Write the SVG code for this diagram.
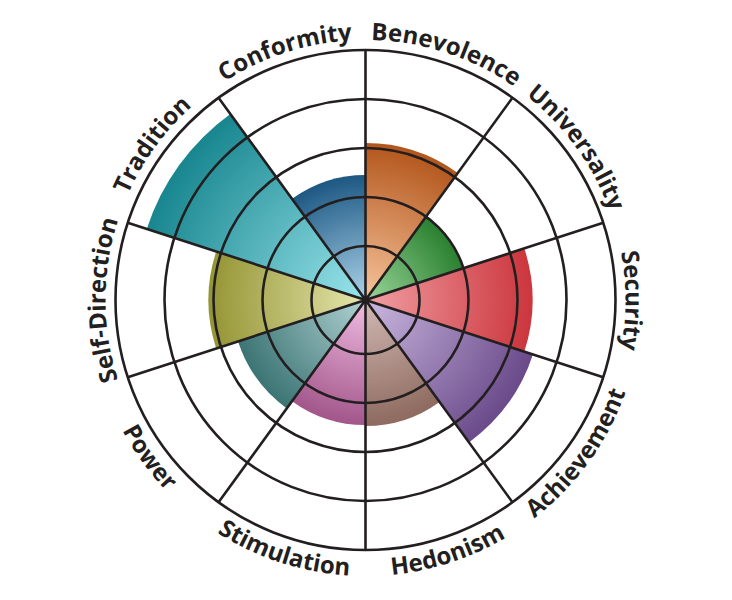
<svg xmlns="http://www.w3.org/2000/svg" xmlns:xlink="http://www.w3.org/1999/xlink" width="732" height="600" viewBox="0 0 732 600">
<style>
.grid{fill:none;stroke:#231f20;stroke-width:2.6}
.lbl{font-family:"Open Sans","Noto Sans","Liberation Sans",sans-serif;font-weight:700;font-size:24px;fill:#231f20}
</style>
<defs>
<path id="cw" d="M365.5,560 A260,260 0 1 1 365.5,40 A260,260 0 1 1 365.5,560"/>
<path id="ccw" d="M365.5,24 A276,276 0 1 0 365.5,576 A276,276 0 1 0 365.5,24"/>
<radialGradient id="gBen" gradientUnits="userSpaceOnUse" cx="365.5" cy="300" r="157"><stop offset="0" stop-color="#f7c59c"/><stop offset="1" stop-color="#b3561c"/></radialGradient>
<radialGradient id="gUni" gradientUnits="userSpaceOnUse" cx="365.5" cy="300" r="103"><stop offset="0" stop-color="#9ad69a"/><stop offset="1" stop-color="#2a8030"/></radialGradient>
<radialGradient id="gSec" gradientUnits="userSpaceOnUse" cx="365.5" cy="300" r="167"><stop offset="0" stop-color="#f0a0a4"/><stop offset="1" stop-color="#cc363d"/></radialGradient>
<radialGradient id="gAch" gradientUnits="userSpaceOnUse" cx="365.5" cy="300" r="176"><stop offset="0" stop-color="#cbb8e0"/><stop offset="1" stop-color="#6a4a8a"/></radialGradient>
<radialGradient id="gHed" gradientUnits="userSpaceOnUse" cx="365.5" cy="300" r="126"><stop offset="0" stop-color="#d2bab5"/><stop offset="1" stop-color="#8e6a5f"/></radialGradient>
<radialGradient id="gSti" gradientUnits="userSpaceOnUse" cx="365.5" cy="300" r="125"><stop offset="0" stop-color="#f0bde2"/><stop offset="1" stop-color="#a2568a"/></radialGradient>
<radialGradient id="gPow" gradientUnits="userSpaceOnUse" cx="365.5" cy="300" r="134"><stop offset="0" stop-color="#b0d2d2"/><stop offset="1" stop-color="#3c7474"/></radialGradient>
<radialGradient id="gSel" gradientUnits="userSpaceOnUse" cx="365.5" cy="300" r="157"><stop offset="0" stop-color="#e6e6ae"/><stop offset="1" stop-color="#959535"/></radialGradient>
<radialGradient id="gTra" gradientUnits="userSpaceOnUse" cx="365.5" cy="300" r="230"><stop offset="0" stop-color="#9ae5ec"/><stop offset="1" stop-color="#18868f"/></radialGradient>
<radialGradient id="gCon" gradientUnits="userSpaceOnUse" cx="365.5" cy="300" r="125"><stop offset="0" stop-color="#acd4ea"/><stop offset="1" stop-color="#1d5883"/></radialGradient>
</defs>
<rect width="732" height="600" fill="#ffffff"/>
<g id="benevolence"><path fill="url(#gBen)" d="M365.5,300 L365.5,143 A157,157 0 0 1 457.78,172.98 Z"/></g>
<g id="universality"><path fill="url(#gUni)" d="M365.5,300 L426.04,216.67 A103,103 0 0 1 463.46,268.17 Z"/></g>
<g id="security"><path fill="url(#gSec)" d="M365.5,300 L524.33,248.39 A167,167 0 0 1 524.33,351.61 Z"/></g>
<g id="achievement"><path fill="url(#gAch)" d="M365.5,300 L532.89,354.39 A176,176 0 0 1 468.95,442.39 Z"/></g>
<g id="hedonism"><path fill="url(#gHed)" d="M365.5,300 L439.56,401.94 A126,126 0 0 1 365.5,426 Z"/></g>
<g id="stimulation"><path fill="url(#gSti)" d="M365.5,300 L365.5,425 A125,125 0 0 1 292.03,401.13 Z"/></g>
<g id="power"><path fill="url(#gPow)" d="M365.5,300 L286.74,408.41 A134,134 0 0 1 238.06,341.41 Z"/></g>
<g id="self-direction"><path fill="url(#gSel)" d="M365.5,300 L216.18,348.52 A157,157 0 0 1 216.18,251.48 Z"/></g>
<g id="tradition"><path fill="url(#gTra)" d="M365.5,300 L146.76,228.93 A230,230 0 0 1 230.31,113.93 Z"/></g>
<g id="conformity"><path fill="url(#gCon)" d="M365.5,300 L292.03,198.87 A125,125 0 0 1 365.5,175 Z"/></g>
<g id="connectors" class="grid">
<circle cx="365.5" cy="300" r="54"/>
<circle cx="365.5" cy="300" r="103"/>
<circle cx="365.5" cy="300" r="152"/>
<circle cx="365.5" cy="300" r="201"/>
<circle cx="365.5" cy="300" r="250"/>
<path d="M365.5,300 L365.5,50 M365.5,300 L512.45,97.75 M365.5,300 L603.26,222.75 M365.5,300 L603.26,377.25 M365.5,300 L512.45,502.25 M365.5,300 L365.5,550 M365.5,300 L218.55,502.25 M365.5,300 L127.74,377.25 M365.5,300 L127.74,222.75 M365.5,300 L218.55,97.75"/>
</g>
<g id="labels" class="lbl" text-anchor="middle">
<text><textPath xlink:href="#cw" href="#cw" startOffset="408.41">Self-Direction</textPath></text>
<text><textPath xlink:href="#cw" href="#cw" startOffset="571.77">Tradition</textPath></text>
<text><textPath xlink:href="#cw" href="#cw" startOffset="735.13">Conformity</textPath></text>
<text><textPath xlink:href="#cw" href="#cw" startOffset="898.50">Benevolence</textPath></text>
<text><textPath xlink:href="#cw" href="#cw" startOffset="1061.86">Universality</textPath></text>
<text><textPath xlink:href="#cw" href="#cw" startOffset="1225.22">Security</textPath></text>
<text><textPath xlink:href="#ccw" href="#ccw" startOffset="606.95">Power</textPath></text>
<text><textPath xlink:href="#ccw" href="#ccw" startOffset="780.37">Stimulation</textPath></text>
<text><textPath xlink:href="#ccw" href="#ccw" startOffset="953.79">Hedonism</textPath></text>
<text><textPath xlink:href="#ccw" href="#ccw" startOffset="1127.20">Achievement</textPath></text>
</g>
</svg>
